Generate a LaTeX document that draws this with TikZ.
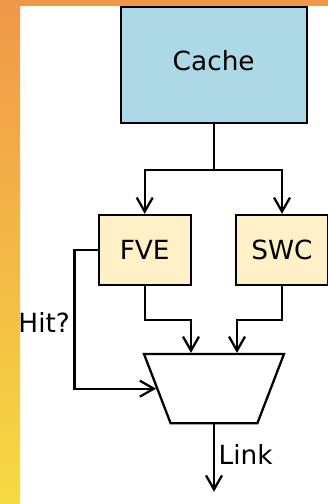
\documentclass[tikz,border=0pt]{standalone}
\usepackage{fontspec}
\setmainfont{DejaVu Sans}
\usepackage{tikz}
\usetikzlibrary{
    arrows.meta,
    positioning,
    calc,
    shapes.geometric
}
\tikzset{
  unit/.style    = {draw, line width=1.3pt, minimum width=1.84cm,
                    minimum height=1.4cm, fill=UnitYellow, font=\fsize},
  mem/.style     = {draw, line width=1.3pt, minimum width=3.72cm,
                    minimum height=2.32cm, fill=CacheBlue, font=\fsize},
  muxbox/.style  = {draw, line width=1.3pt, trapezium, trapezium stretches=true,
                    trapezium left angle=108.6, trapezium right angle=108.6,
                    minimum width=2.8cm, minimum height=1.386cm},
  wire/.style    = {line width=1.3pt},
  arr/.style     = {-{Straight Barb[length=2.8mm,width=3.2mm]}, line width=1.3pt}
}
\newcommand{\fsize}{\fontsize{15}{18}\selectfont}
\definecolor{CacheBlue}{RGB}{173,216,230}
\definecolor{UnitYellow}{RGB}{255,240,200}
\definecolor{BarOrange}{RGB}{239,152,74}
\definecolor{BarYellow}{RGB}{246,218,66}

\begin{document}
\begin{tikzpicture}
\useasboundingbox (0,0) rectangle (6.56,10.08);
% frame
\shade[top color=BarOrange, bottom color=BarYellow] (0,0) rectangle (0.4,10.08);
\fill[BarOrange] (0.4,9.96) rectangle (6.56,10.08);
% blocks
\node[mem, text depth=0.2cm] (cache) at (4.274,8.774) {Cache};
\node[unit] (fve) at (2.894,5.08) {FVE};
\node[unit] (swc) at (5.64,5.08) {SWC};
\node[muxbox] (mux) at (4.28,2.306) {\phantom{M}};
\coordinate (split) at (4.274,6.68);
\coordinate (link) at (4.28,0.246);
% wires
\draw[wire] (cache.south) -- (split);
\draw[arr] (split) -| (fve.north);
\draw[arr] (split) -| (swc.north);
\draw[arr] (fve.south) -- ++(0,-0.68) -| ([xshift=-0.46cm]mux.top side);
\draw[arr] (swc.south) -- ++(0,-0.68) -| ([xshift=0.46cm]mux.top side);
\draw[arr] (fve.west) -- ++(-0.46,0) |- (mux.left side)
      node[pos=0.26, left, inner sep=2pt, font=\fsize] {Hit?};
\draw[arr] (mux.bottom side) -- (link)
      node[pos=0.45, right, inner sep=2pt, font=\fsize] {Link};
\end{tikzpicture}
\end{document}
